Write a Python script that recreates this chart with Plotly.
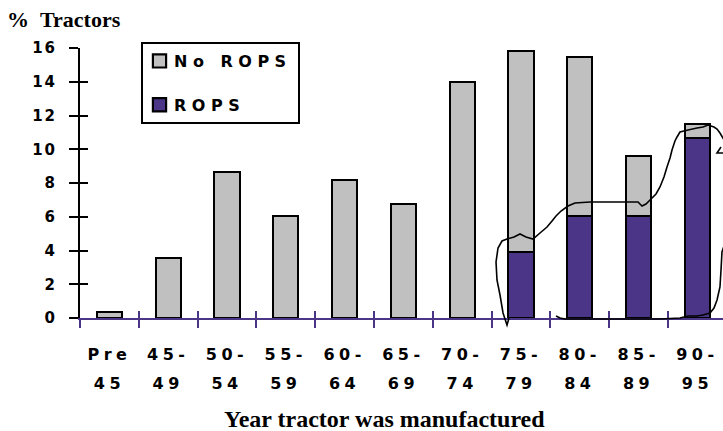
import plotly.graph_objects as go

# ---- data ----
categories_line1 = ["Pre", "45-", "50-", "55-", "60-", "65-", "70-", "75-", "80-", "85-", "90-"]
categories_line2 = ["45", "49", "54", "59", "64", "69", "74", "79", "84", "89", "95"]
rops = [None, None, None, None, None, None, None, 3.9, 6.05, 6.05, 10.65]
no_rops = [0.35, 3.55, 8.65, 6.05, 8.15, 6.75, 14.0, 11.9, 9.4, 3.55, 0.85]
y_ticks = [0, 2, 4, 6, 8, 10, 12, 14, 16]

GREY = "#C0C0C0"
PURPLE = "#4A3587"

W, H = 723, 431
ML, MR, MT, MB = 80, 0, 48, 113
PW, PH = W - ML - MR, H - MT - MB

n = len(categories_line1)
centers = list(range(n))
bounds = [i - 0.5 for i in range(n)]
x_range = [-0.5, -0.5 + PW / 58.8]

fig = go.Figure()
fig.add_trace(go.Bar(x=centers, y=rops, name="ROPS", width=0.43,
                     marker=dict(color=PURPLE, line=dict(color="black", width=2)),
                     legendgroup="b", legendrank=2))
fig.add_trace(go.Bar(x=centers, y=no_rops, name="No ROPS", width=0.43,
                     marker=dict(color=GREY, line=dict(color="black", width=2)),
                     legendgroup="a", legendrank=1))
# invisible helpers so the overlay axes (second label row, crossing ticks) get drawn
for xa, ya in [("x2", "y"), ("x3", "y"), ("x4", "y"), ("x", "y2")]:
    fig.add_trace(go.Scatter(x=[0], y=[0], xaxis=xa, yaxis=ya, mode="markers",
                             marker=dict(opacity=0), showlegend=False, hoverinfo="skip"))

tickfont = dict(family="DejaVu Sans", size=16, color="black", weight="bold")
noax = dict(showline=False, showgrid=False, zeroline=False)

fig.update_layout(
    width=W, height=H, barmode="stack",
    margin=dict(l=ML, r=MR, t=MT, b=MB),
    plot_bgcolor="white", paper_bgcolor="white",
    showlegend=True,
    legend=dict(x=(141 - ML) / PW, y=(MT + PH - 42) / PH, xanchor="left", yanchor="top",
                bgcolor="white", bordercolor="black", borderwidth=2,
                font=dict(family="DejaVu Sans", size=16, color="black", weight="bold"),
                traceorder="grouped", tracegroupgap=20, itemwidth=30),
    xaxis=dict(range=x_range, tickmode="array", tickvals=centers, ticktext=categories_line1,
               ticks="", showline=True, linecolor=PURPLE, linewidth=2, showgrid=False,
               zeroline=False, tickfont=tickfont, ticklabelstandoff=21, layer="below traces"),
    xaxis2=dict(range=x_range, overlaying="x", anchor="y", side="bottom", tickmode="array",
                tickvals=centers, ticktext=categories_line2, ticks="",
                tickfont=tickfont, ticklabelstandoff=54, **noax),
    xaxis3=dict(range=x_range, overlaying="x", anchor="y", side="bottom", tickmode="array",
                tickvals=bounds, ticks="outside", ticklen=9, tickwidth=2, tickcolor=PURPLE,
                showticklabels=False, **noax),
    xaxis4=dict(range=x_range, overlaying="x", anchor="y", side="bottom", tickmode="array",
                tickvals=bounds, ticks="inside", ticklen=7, tickwidth=2, tickcolor=PURPLE,
                showticklabels=False, **noax),
    yaxis=dict(range=[0, 16], tickmode="array", tickvals=y_ticks, ticks="outside", ticklen=9,
               tickwidth=2, tickcolor="black", showline=True, linecolor="black", linewidth=2,
               showgrid=False, zeroline=False, tickfont=dict(family="DejaVu Sans", size=15,
               color="black", weight="bold"), ticklabelstandoff=9),
    yaxis2=dict(range=[0, 16], overlaying="y", anchor="x", side="left", tickmode="array",
                tickvals=y_ticks, ticks="inside", ticklen=8, tickwidth=2, tickcolor="black",
                showticklabels=False, **noax),
)

# axis titles
fig.add_annotation(text="%\u00a0\u00a0Tractors", xref="paper", yref="paper",
                   x=(5 - ML) / PW, y=(MT + PH - 19) / PH, xanchor="left", yanchor="middle",
                   showarrow=False,
                   font=dict(family="Liberation Serif", size=22, color="black", weight="bold"))
fig.add_annotation(text="Year tractor was manufactured", xref="paper", yref="paper",
                   x=(384 - ML) / PW, y=(MT + PH - 419) / PH, xanchor="center", yanchor="middle",
                   showarrow=False,
                   font=dict(family="Liberation Serif", size=24, color="black", weight="bold"))

# hand-drawn loop around the ROPS bars (annotation, in pixel space of the figure)
loop_px = [(509, 318), (507, 325), (503, 313), (500, 295), (497, 280), (496, 262), (498, 248),
           (502, 241), (507, 239), (514, 237), (520, 234), (526, 237), (533, 239), (540, 233),
           (547, 227), (552, 221), (556, 216), (561, 211), (568, 206), (575, 203), (590, 202),
           (620, 202), (638, 202), (642, 206), (646, 204), (650, 200), (656, 194), (660, 187),
           (664, 177), (667, 167), (670, 158), (672, 150), (675, 141), (677, 137), (680, 132),
           (688, 130), (697, 128), (703, 127), (708, 125), (714, 127), (717, 129), (720, 133),
           (724, 140), (726, 160), (726, 240), (722, 252), (721, 270), (720, 287), (717, 300),
           (714, 308), (710, 313), (703, 315), (697, 316), (688, 316), (680, 318), (660, 319),
           (620, 319), (590, 319), (565, 319), (560, 318), (556, 316)]
arrow_px = [(721, 147), (717, 153), (725, 153)]


def to_paper(p):
    return ((p[0] - ML) / PW, (MT + PH - p[1]) / PH)


def path_of(pts):
    pp = [to_paper(p) for p in pts]
    return "M" + " L".join(f"{x:.4f},{y:.4f}" for x, y in pp)


fig.add_shape(type="path", xref="paper", yref="paper", path=path_of(loop_px),
              line=dict(color="black", width=1.6))
fig.add_shape(type="path", xref="paper", yref="paper", path=path_of(arrow_px),
              line=dict(color="black", width=1.6))

post = """
(function(){
  document.body.style.margin = '0';
  document.body.style.padding = '0';
  var gd = document.getElementById('{plot_id}');
  function fix(){
    gd.querySelectorAll('g.xtick text, g.x2tick text').forEach(function(t){t.setAttribute('letter-spacing','4.5px');});
    gd.querySelectorAll('g.ytick text').forEach(function(t){t.setAttribute('letter-spacing','2px');});
    gd.querySelectorAll('text.legendtext').forEach(function(t){
      t.setAttribute('letter-spacing','5.5px'); t.setAttribute('x', 31);});
    gd.querySelectorAll('g.legend g.legendpoints').forEach(function(g){
      g.setAttribute('transform', 'translate(-5.5,0) scale(1.1)');});
    var bg = gd.querySelector('g.legend rect.bg'); if(bg) bg.setAttribute('width', 157);
    document.querySelectorAll('clipPath[id^="legend"] rect').forEach(function(r){r.setAttribute('width', 157);});
  }
  fix();
  if (gd.on) gd.on('plotly_afterplot', fix);
})();
"""

fig.write_html("out.html", post_script=post, config=dict(displayModeBar=False))
